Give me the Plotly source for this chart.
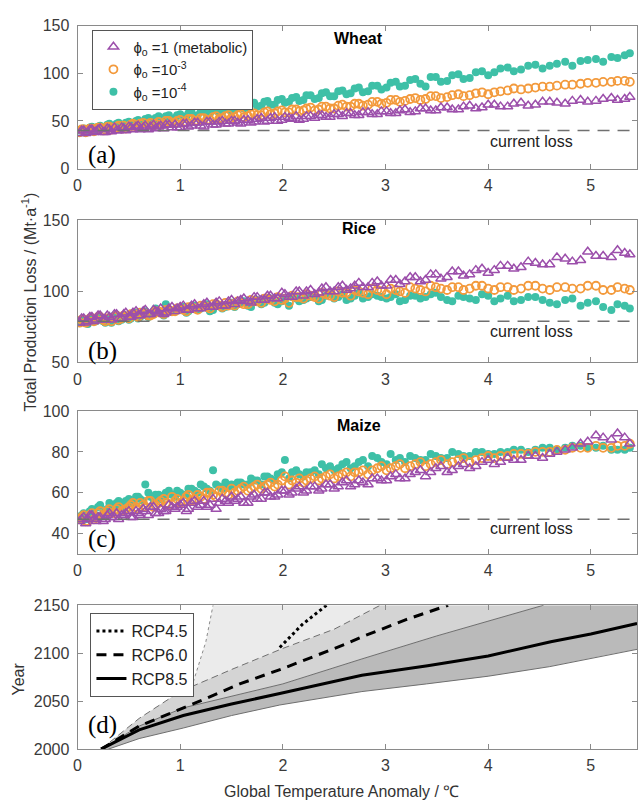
import plotly.graph_objects as go

# ---------------- data ----------------
# two interleaved sets of warming levels (ensemble members)
temp = [0.02, 0.06, 0.10, 0.14, 0.18, 0.22, 0.27, 0.31, 0.36, 0.40,
        0.45, 0.50, 0.54, 0.59, 0.64, 0.69, 0.74, 0.79, 0.84, 0.89,
        0.95, 1.00, 1.06, 1.11, 1.17, 1.23, 1.29, 1.35, 1.41, 1.47,
        1.53, 1.59, 1.66, 1.72, 1.79, 1.85, 1.92, 1.99, 2.06, 2.13,
        2.20, 2.27, 2.35, 2.42, 2.50, 2.58, 2.66, 2.74, 2.83, 2.92,
        3.01, 3.10, 3.19, 3.29, 3.39, 3.49, 3.60, 3.71, 3.82, 3.94,
        4.06, 4.19, 4.32, 4.46, 4.60, 4.75, 4.90, 5.05, 5.20, 5.33]
temp2 = [0.04, 0.08, 0.12, 0.16, 0.20, 0.25, 0.29, 0.33, 0.38, 0.43,
         0.47, 0.52, 0.57, 0.61, 0.66, 0.71, 0.76, 0.81, 0.86, 0.92,
         0.97, 1.03, 1.08, 1.14, 1.20, 1.26, 1.32, 1.38, 1.44, 1.50,
         1.56, 1.62, 1.69, 1.75, 1.82, 1.88, 1.95, 2.02, 2.09, 2.16,
         2.23, 2.31, 2.38, 2.46, 2.54, 2.62, 2.70, 2.78, 2.87, 2.96,
         3.05, 3.14, 3.24, 3.34, 3.44, 3.54, 3.65, 3.76, 3.88, 4.00,
         4.12, 4.25, 4.39, 4.53, 4.67, 4.82, 4.97, 5.12, 5.26, 5.38]

wheat_metabolic = [37, 40, 38, 41, 39, 42, 38, 41, 43, 40,
                   42, 44, 41, 45, 43, 41, 46, 44, 42, 46,
                   46, 43, 47, 45, 48, 44, 49, 46, 50, 47,
                   50, 47, 51, 49, 53, 50, 54, 51, 53, 55,
                   52, 55, 56, 54, 57, 55, 58, 56, 59, 57,
                   60, 58, 62, 60, 63, 61, 64, 62, 66, 64,
                   67, 65, 69, 67, 70, 68, 72, 71, 74, 73]
wheat_metabolic_b = [40, 37, 41, 38, 41, 38, 42, 39, 40, 43,
                     40, 43, 44, 41, 45, 44, 42, 45, 46, 43,
                     43, 47, 44, 48, 45, 49, 46, 49, 47, 50,
                     48, 51, 48, 52, 49, 53, 50, 54, 52, 51,
                     55, 53, 56, 54, 57, 58, 56, 59, 57, 60,
                     58, 61, 59, 63, 61, 64, 62, 65, 63, 67,
                     65, 68, 66, 70, 69, 71, 70, 73, 72, 75]
wheat_e3 = [38, 41, 39, 42, 40, 43, 41, 44, 42, 45,
            45, 43, 47, 44, 48, 46, 45, 49, 47, 50,
            48, 51, 49, 52, 50, 53, 51, 55, 53, 56,
            54, 57, 55, 58, 56, 60, 58, 61, 59, 62,
            61, 64, 62, 65, 63, 67, 65, 68, 67, 70,
            69, 72, 71, 74, 73, 76, 75, 78, 77, 80,
            80, 82, 83, 85, 86, 88, 89, 90, 91, 92]
wheat_e3_b = [41, 38, 42, 39, 43, 40, 44, 41, 44, 42,
              42, 46, 44, 47, 45, 48, 47, 46, 50, 48,
              50, 48, 52, 50, 53, 51, 54, 52, 55, 53,
              56, 54, 57, 56, 59, 57, 60, 59, 62, 60,
              63, 61, 65, 63, 66, 65, 68, 66, 70, 68,
              72, 70, 73, 72, 76, 74, 77, 76, 79, 78,
              81, 84, 84, 86, 87, 88, 90, 91, 92, 91]
wheat_e4 = [40, 42, 39, 44, 41, 45, 43, 47, 44, 48,
            45, 49, 47, 51, 48, 53, 50, 55, 51, 56,
            53, 57, 55, 59, 56, 61, 58, 63, 60, 65,
            62, 67, 64, 69, 66, 71, 67, 73, 70, 75,
            72, 77, 74, 80, 76, 82, 79, 85, 81, 87,
            85, 91, 87, 94, 86, 96, 92, 99, 95, 102,
            101, 106, 104, 109, 108, 112, 113, 115, 117, 119]
wheat_e4_b = [41, 38, 43, 40, 44, 42, 46, 43, 47, 44,
              48, 45, 50, 47, 52, 49, 53, 50, 55, 52,
              56, 53, 58, 55, 60, 57, 62, 59, 64, 61,
              66, 63, 68, 65, 70, 67, 72, 69, 74, 71,
              77, 73, 79, 76, 81, 78, 84, 80, 87, 83,
              90, 86, 93, 89, 96, 91, 98, 94, 101, 98,
              105, 102, 108, 105, 110, 108, 114, 112, 116, 121]

rice_metabolic = [78, 81, 79, 82, 80, 83, 80, 82, 84, 81,
                  84, 82, 85, 83, 86, 84, 87, 85, 84, 88,
                  86, 89, 87, 90, 88, 91, 89, 92, 90, 93,
                  91, 94, 93, 96, 94, 97, 95, 99, 96, 100,
                  97, 101, 99, 103, 100, 104, 102, 106, 103, 107,
                  104, 108, 107, 110, 108, 112, 110, 114, 112, 116,
                  115, 118, 117, 120, 119, 123, 122, 125, 124, 127]
rice_metabolic_b = [81, 78, 82, 79, 83, 80, 83, 80, 84, 81,
                    85, 82, 86, 83, 87, 84, 86, 88, 85, 89,
                    88, 90, 87, 91, 88, 92, 89, 93, 90, 94,
                    93, 95, 92, 96, 94, 97, 95, 98, 96, 100,
                    100, 98, 102, 100, 103, 101, 104, 103, 106, 104,
                    108, 105, 110, 107, 112, 109, 114, 111, 115, 113,
                    118, 116, 121, 119, 124, 121, 128, 125, 129, 126]
rice_e3 = [78, 80, 79, 81, 80, 82, 79, 81, 82, 80,
           83, 81, 84, 82, 85, 83, 84, 86, 84, 87,
           86, 88, 86, 89, 87, 90, 88, 91, 89, 90,
           90, 92, 91, 93, 92, 95, 93, 94, 92, 96,
           95, 97, 95, 98, 96, 99, 97, 100, 98, 101,
           98, 101, 99, 102, 100, 103, 101, 103, 102, 104,
           101, 103, 102, 104, 101, 103, 102, 104, 101, 102]
rice_e3_b = [80, 78, 81, 79, 82, 80, 81, 79, 83, 81,
             82, 84, 83, 85, 84, 83, 86, 85, 87, 86,
             88, 87, 89, 88, 90, 89, 91, 90, 92, 91,
             93, 91, 94, 93, 95, 94, 96, 95, 97, 96,
             98, 96, 99, 97, 100, 99, 101, 99, 102, 100,
             102, 100, 103, 101, 104, 102, 103, 101, 104, 102,
             103, 101, 104, 102, 103, 102, 104, 101, 103, 101]
rice_e4 = [78, 80, 77, 81, 79, 82, 78, 80, 83, 79,
           82, 80, 84, 81, 85, 82, 84, 86, 83, 87,
           86, 88, 85, 89, 87, 90, 86, 91, 88, 90,
           89, 92, 90, 93, 91, 94, 92, 93, 90, 95,
           94, 96, 93, 97, 95, 98, 95, 99, 96, 97,
           95, 98, 94, 97, 96, 99, 94, 97, 95, 98,
           93, 97, 94, 96, 92, 94, 90, 93, 87, 90]
rice_e4_b = [80, 78, 81, 79, 82, 79, 81, 78, 82, 80,
             83, 81, 85, 82, 86, 84, 88, 85, 91, 86,
             87, 89, 86, 90, 88, 91, 87, 90, 89, 92,
             91, 93, 89, 94, 92, 95, 91, 94, 96, 93,
             95, 97, 94, 98, 96, 94, 97, 95, 98, 96,
             96, 93, 97, 95, 98, 96, 93, 96, 94, 97,
             95, 93, 96, 94, 91, 95, 92, 89, 91, 88]

maize_metabolic = [46, 48, 47, 49, 46, 48, 47, 50, 48, 47,
                   49, 51, 48, 50, 52, 49, 53, 50, 51, 54,
                   52, 54, 51, 55, 53, 56, 54, 52, 57, 55,
                   56, 58, 55, 59, 57, 60, 58, 61, 59, 62,
                   60, 63, 61, 64, 62, 65, 63, 66, 64, 67,
                   66, 69, 67, 70, 68, 72, 70, 73, 72, 75,
                   74, 77, 76, 78, 79, 81, 84, 88, 86, 87]
maize_metabolic_b = [47, 45, 49, 47, 48, 46, 49, 48, 50, 49,
                     50, 48, 51, 49, 51, 53, 50, 52, 51, 53,
                     53, 55, 52, 56, 54, 53, 57, 55, 56, 58,
                     57, 55, 58, 57, 60, 58, 59, 61, 60, 63,
                     61, 63, 62, 64, 63, 66, 64, 65, 67, 66,
                     68, 67, 69, 71, 70, 73, 71, 74, 73, 76,
                     75, 76, 78, 77, 80, 82, 85, 87, 89, 84]
maize_e3 = [47, 49, 46, 50, 48, 51, 49, 52, 50, 53,
            51, 53, 55, 52, 54, 56, 53, 55, 57, 54,
            56, 55, 58, 56, 59, 57, 60, 58, 61, 59,
            60, 62, 61, 63, 62, 64, 63, 66, 64, 65,
            65, 67, 66, 68, 67, 69, 68, 70, 69, 72,
            71, 73, 72, 74, 73, 75, 74, 76, 75, 77,
            77, 78, 79, 80, 80, 81, 82, 83, 82, 83]
maize_e3_b = [48, 46, 49, 47, 50, 49, 51, 50, 52, 51,
              52, 54, 53, 55, 53, 56, 54, 56, 55, 58,
              57, 56, 59, 57, 58, 60, 59, 61, 60, 62,
              61, 63, 62, 64, 63, 65, 64, 68, 66, 67,
              66, 68, 67, 69, 68, 70, 70, 71, 71, 73,
              72, 74, 73, 75, 74, 76, 75, 77, 76, 78,
              78, 79, 79, 80, 81, 82, 82, 82, 83, 84]
maize_e4 = [47, 50, 48, 52, 49, 54, 51, 55, 53, 56,
            54, 57, 55, 58, 56, 60, 57, 59, 58, 61,
            58, 60, 59, 62, 60, 63, 61, 64, 62, 63,
            63, 65, 64, 66, 64, 68, 66, 70, 67, 71,
            68, 70, 69, 72, 71, 74, 72, 75, 73, 77,
            74, 76, 75, 77, 76, 78, 77, 79, 78, 80,
            79, 80, 81, 81, 82, 82, 83, 82, 81, 81]
maize_e4_b = [49, 47, 51, 48, 53, 50, 52, 54, 55, 53,
              56, 55, 58, 57, 64, 58, 59, 57, 60, 59,
              61, 59, 62, 61, 64, 62, 71, 63, 65, 64,
              65, 64, 67, 66, 68, 67, 69, 76, 70, 69,
              70, 71, 74, 73, 72, 75, 73, 76, 78, 75,
              79, 77, 78, 76, 79, 77, 80, 78, 80, 79,
              80, 81, 80, 82, 81, 83, 82, 83, 81, 82]

wheat_current_loss = 40
rice_current_loss = 79
maize_current_loss = 47

# panel d: years at which warming levels are reached
rcp45_mean_T = [1.97, 2.19, 2.45]
rcp45_mean_Y = [2106, 2130, 2152]
rcp45_lower_T = [1.11, 1.18, 1.25, 1.32]
rcp45_lower_Y = [2064, 2088, 2112, 2150]
rcp60_mean_T = [0.23, 0.6, 1.19, 1.58, 2.0, 2.6, 2.77, 3.2, 3.61]
rcp60_mean_Y = [2000, 2024, 2050, 2068, 2084, 2109, 2117, 2135, 2150]
rcp60_upper_T = [0.23, 0.6, 1.0, 1.5, 2.0, 2.5, 2.95]
rcp60_upper_Y = [2000, 2032, 2060, 2083, 2105, 2125, 2150]
rcp85_mean_T = [0.23, 0.6, 1.03, 1.5, 1.97, 2.77, 3.41, 4.0, 4.61, 5.0, 5.45]
rcp85_mean_Y = [2000, 2020, 2035, 2047, 2058, 2077, 2087, 2097, 2112, 2120, 2131]
rcp85_upper_T = [0.23, 0.6, 1.03, 1.5, 2.0, 2.77, 3.5, 4.54]
rcp85_upper_Y = [2000, 2024, 2043, 2055, 2068, 2094, 2118, 2150]
rcp85_lower_T = [0.3, 0.6, 1.03, 1.5, 1.97, 2.77, 3.4, 4.0, 4.6, 5.19, 5.45]
rcp85_lower_Y = [2000, 2011, 2022, 2035, 2046, 2060, 2068, 2076, 2086, 2099, 2104]

x_ticks = [0, 1, 2, 3, 4, 5]
x_max = 5.45
year_range = [2000, 2150]

# ---------------- layout helpers ----------------
W, H = 640, 811
def fx(p):
    return p / W
def fy(p):
    return 1 - p / H

FONT = "Liberation Sans, Arial, Helvetica, sans-serif"
SERIF = "Liberation Serif, Times New Roman, serif"
PURPLE = "#9c4fab"
ORANGE = "#f39a3c"
TEAL = "#3ec0a7"
AXC = "#8a8a8a"

fig = go.Figure()

panels = [
    (1, "Wheat", (wheat_metabolic, wheat_metabolic_b), (wheat_e3, wheat_e3_b), (wheat_e4, wheat_e4_b),
     wheat_current_loss, [0, 150], [0, 50, 100, 150], 18, 164, "(a)", 150, 31, 136),
    (2, "Rice", (rice_metabolic, rice_metabolic_b), (rice_e3, rice_e3_b), (rice_e4, rice_e4_b),
     rice_current_loss, [50, 150], [50, 100, 150], 217, 362, "(b)", 350, 225, 330),
    (3, "Maize", (maize_metabolic, maize_metabolic_b), (maize_e3, maize_e3_b), (maize_e4, maize_e4_b),
     maize_current_loss, [30, 100], [40, 60, 80, 100], 411.7, 557.7, "(c)", 542, 426, 532),
]

axis_common = dict(showgrid=False, zeroline=False, showline=True, linecolor=AXC,
                   linewidth=1, mirror="ticks", ticks="inside", ticklen=5,
                   tickcolor=AXC, tickfont=dict(size=16, color="#3a3a3a", family=FONT))

annotations = []
shapes = []
layout_axes = {}


def note(text, px, py, size, family=FONT, color="#222", angle=0):
    annotations.append(dict(text=text, x=fx(px), y=fy(py), xref="paper", yref="paper",
                            xanchor="center", yanchor="middle", showarrow=False,
                            textangle=angle, font=dict(size=size, color=color, family=family)))


xs = temp + temp2
for (i, name, ym, y3, y4, cl, yr, yt, top, bot, lab, laby, titley, cly) in panels:
    xa = "x" if i == 1 else f"x{i}"
    ya = "y" if i == 1 else f"y{i}"
    show = (i == 1)
    fig.add_trace(go.Scatter(x=xs, y=y4[0] + y4[1], mode="markers", xaxis=xa, yaxis=ya,
                             name="ϕ<sub>o</sub> =10<sup>-4</sup>", showlegend=show, legend="legend",
                             marker=dict(symbol="circle", size=8, color=TEAL)))
    fig.add_trace(go.Scatter(x=xs, y=y3[0] + y3[1], mode="markers", xaxis=xa, yaxis=ya,
                             name="ϕ<sub>o</sub> =10<sup>-3</sup>", showlegend=show, legend="legend",
                             marker=dict(symbol="circle-open", size=8, color=ORANGE,
                                         line=dict(width=1.8, color=ORANGE))))
    fig.add_trace(go.Scatter(x=xs, y=ym[0] + ym[1], mode="markers", xaxis=xa, yaxis=ya,
                             name="ϕ<sub>o</sub> =1 (metabolic)", showlegend=show, legend="legend",
                             marker=dict(symbol="triangle-up-open", size=9, color=PURPLE,
                                         line=dict(width=1.5, color=PURPLE))))
    layout_axes["xaxis" if i == 1 else f"xaxis{i}"] = dict(
        axis_common, domain=[fx(74), fx(637)], range=[0, x_max], tickvals=x_ticks,
        anchor=ya, ticklabelstandoff=2)
    layout_axes["yaxis" if i == 1 else f"yaxis{i}"] = dict(
        axis_common, domain=[fy(bot), fy(top)], range=yr, tickvals=yt,
        anchor=xa, ticklabelstandoff=4)
    shapes.append(dict(type="line", xref=xa, yref=ya, x0=0, x1=x_max, y0=cl, y1=cl,
                       line=dict(color="#707070", width=1.5, dash="12px,8px")))
    note(f"<b>{name}</b>", 357, titley, 16, color="black")
    note("current loss", 531, cly, 16)
    note(lab, 99, laby, 25, family=SERIF, color="black")

# ---------------- panel d ----------------
light_x = rcp45_lower_T + [t for t in reversed(rcp60_upper_T) if t > rcp45_lower_T[0]]
light_y = rcp45_lower_Y + [y for t, y in zip(reversed(rcp60_upper_T), reversed(rcp60_upper_Y))
                           if t > rcp45_lower_T[0]]
fig.add_trace(go.Scatter(x=light_x, y=light_y, fill="toself", fillcolor="#ebebeb", mode="none",
                         showlegend=False, xaxis="x4", yaxis="y4", hoverinfo="skip"))
med_x = rcp60_upper_T + list(reversed(rcp85_upper_T))
med_y = rcp60_upper_Y + list(reversed(rcp85_upper_Y))
fig.add_trace(go.Scatter(x=med_x, y=med_y, fill="toself", fillcolor="#d4d4d4", mode="none",
                         showlegend=False, xaxis="x4", yaxis="y4", hoverinfo="skip"))
dark_x = rcp85_upper_T + [x_max] + list(reversed(rcp85_lower_T))
dark_y = rcp85_upper_Y + [year_range[1]] + list(reversed(rcp85_lower_Y))
fig.add_trace(go.Scatter(x=dark_x, y=dark_y, fill="toself", fillcolor="#bababa", mode="none",
                         showlegend=False, xaxis="x4", yaxis="y4", hoverinfo="skip"))

thin = [(rcp45_lower_T, rcp45_lower_Y, "#8a8a8a", "dot"),
        (rcp60_upper_T, rcp60_upper_Y, "#6e6e6e", "7px,4px"),
        (rcp85_upper_T, rcp85_upper_Y, "#6e6e6e", "solid"),
        (rcp85_lower_T, rcp85_lower_Y, "#6e6e6e", "solid")]
for tx, ty, c, d in thin:
    fig.add_trace(go.Scatter(x=tx, y=ty, mode="lines", line=dict(color=c, width=1, dash=d),
                             showlegend=False, xaxis="x4", yaxis="y4", hoverinfo="skip"))

fig.add_trace(go.Scatter(x=rcp45_mean_T, y=rcp45_mean_Y, mode="lines", name="RCP4.5",
                         line=dict(color="black", width=3, dash="dot"),
                         xaxis="x4", yaxis="y4", legend="legend2"))
fig.add_trace(go.Scatter(x=rcp60_mean_T, y=rcp60_mean_Y, mode="lines", name="RCP6.0",
                         line=dict(color="black", width=3, dash="10px,7px"),
                         xaxis="x4", yaxis="y4", legend="legend2"))
fig.add_trace(go.Scatter(x=rcp85_mean_T, y=rcp85_mean_Y, mode="lines", name="RCP8.5",
                         line=dict(color="black", width=3, dash="solid"),
                         xaxis="x4", yaxis="y4", legend="legend2"))

layout_axes["xaxis4"] = dict(axis_common, domain=[fx(74), fx(637)], range=[0, x_max],
                             tickvals=x_ticks, anchor="y4", ticklabelstandoff=2)
layout_axes["yaxis4"] = dict(axis_common, domain=[fy(757), fy(610)], range=year_range,
                             tickvals=[2000, 2050, 2100, 2150], anchor="x4", ticklabelstandoff=4)
note("(d)", 99, 732, 25, family=SERIF, color="black")

# axis titles
note("Total Production Loss / (Mt·a<sup>-1</sup>)", 25, 300, 16, color="#333", angle=-90)
note("Year", 15, 685, 16, color="#333", angle=-90)
note("Global Temperature Anomaly / ℃", 340, 800, 16, color="#333")

fig.update_layout(
    width=W, height=H, margin=dict(l=0, r=0, t=0, b=0),
    paper_bgcolor="white", plot_bgcolor="white",
    annotations=annotations, shapes=shapes,
    legend=dict(x=fx(89), y=fy(22), xanchor="left", yanchor="top", bgcolor="white",
                bordercolor="#555", borderwidth=1, traceorder="reversed",
                font=dict(size=15, color="#222", family=FONT), tracegroupgap=0),
    legend2=dict(x=fx(87), y=fy(618), xanchor="left", yanchor="top", bgcolor="white",
                 bordercolor="#555", borderwidth=1,
                 font=dict(size=16, color="#222", family=FONT)),
    **layout_axes,
)

fig.write_html("out.html")
